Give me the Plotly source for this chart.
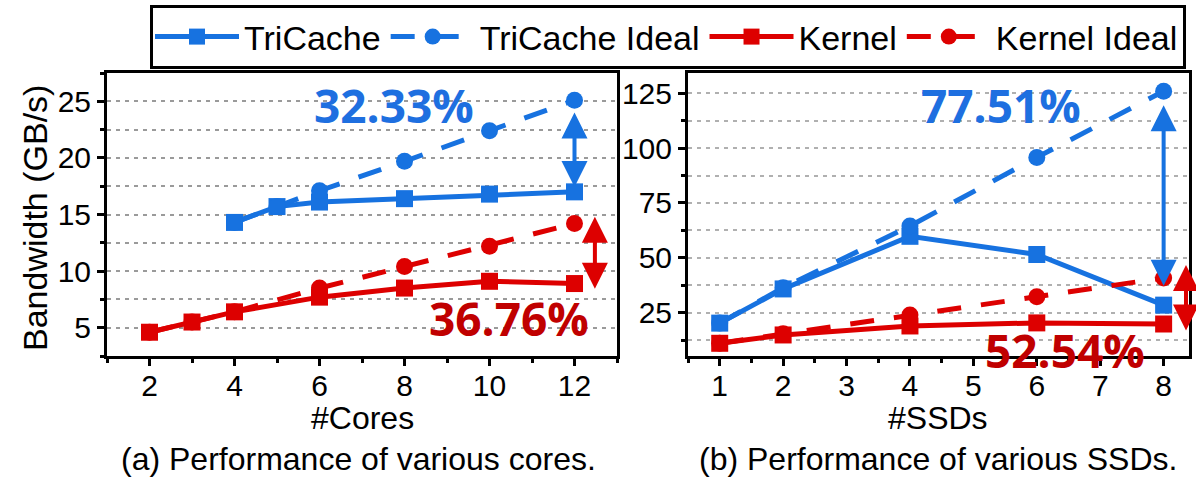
import plotly.graph_objects as go

BLUE = "#1772E0"
RED = "#DD0000"
RED_TXT = "#C00000"
BLUE_TXT = "#1E6FE0"

# (a) cores
cores_tri = [4, 5, 6, 8, 10, 12]
tri_bw = [14.3, 15.7, 16.1, 16.4, 16.8, 17.0]
tri_ideal_bw = [14.3, 15.7, 17.1, 19.7, 22.4, 25.1]
cores_ker = [2, 3, 4, 6, 8, 10, 12]
ker_bw = [4.6, 5.5, 6.4, 7.7, 8.5, 9.1, 8.9]
ker_ideal_bw = [4.6, 5.5, 6.4, 8.5, 10.4, 12.2, 14.2]

# (b) SSDs
ssds = [1, 2, 4, 6, 8]
tri_ssd = [20.2, 35.8, 59.8, 51.5, 28.4]
tri_ssd_ideal = [20.2, 36.3, 64.5, 95.8, 126.0]
ker_ssd = [11.0, 14.8, 18.9, 20.3, 19.8]
ker_ssd_ideal = [11.0, 15.3, 23.9, 32.2, 40.8]

cores_ticks = [2, 4, 6, 8, 10, 12]
ssd_ticks = [1, 2, 3, 4, 5, 6, 7, 8]
bw_ticks_a = [5, 10, 15, 20, 25]
bw_ticks_b = [25, 50, 75, 100, 125]

DASH = "24px,20px"
LW = 5
MS = 17

fig = go.Figure()

def add(x, y, color, dash, symbol, name, xa, ya, show):
    fig.add_trace(go.Scatter(
        x=x, y=y, mode="lines+markers", name=name, legendgroup=name,
        showlegend=show, xaxis=xa, yaxis=ya, cliponaxis=False,
        line=dict(color=color, width=LW, dash=dash),
        marker=dict(symbol=symbol, size=MS, color=color, line=dict(width=0)),
    ))

add(cores_tri, tri_bw, BLUE, "solid", "square", "TriCache", "x", "y", True)
add(cores_tri, tri_ideal_bw, BLUE, DASH, "circle", "TriCache Ideal", "x", "y", True)
add(cores_ker, ker_bw, RED, "solid", "square", "Kernel", "x", "y", True)
add(cores_ker, ker_ideal_bw, RED, DASH, "circle", "Kernel Ideal", "x", "y", True)

add(ssds, tri_ssd, BLUE, "solid", "square", "TriCache", "x2", "y2", False)
add(ssds, tri_ssd_ideal, BLUE, DASH, "circle", "TriCache Ideal", "x2", "y2", False)
add(ssds, ker_ssd, RED, "solid", "square", "Kernel", "x2", "y2", False)
add(ssds, ker_ssd_ideal, RED, DASH, "circle", "Kernel Ideal", "x2", "y2", False)

W, H = 1196, 479
def px(v): return v / W
def py(v): return 1 - v / H

TICKFONT = dict(family="Liberation Sans, Arial", size=30, color="black")

axis_common = dict(
    showline=True, linecolor="black", linewidth=3, mirror=True,
    ticks="outside", ticklen=7, tickwidth=3, tickcolor="black",
    tickfont=TICKFONT, zeroline=False,
)

fig.update_layout(
    width=W, height=H,
    margin=dict(l=0, r=0, t=0, b=0),
    paper_bgcolor="white", plot_bgcolor="white",
    xaxis=dict(domain=[px(107), px(617)], range=[1, 13], tickvals=cores_ticks,
               showgrid=False, anchor="y", ticklabelstandoff=-6,
               minor=dict(dtick=1, tick0=1, ticks="outside", ticklen=4, tickwidth=3,
                          tickcolor="black", showgrid=False),
               **axis_common),
    yaxis=dict(domain=[py(356), py(73)], range=[2.5, 27.5], tickvals=bw_ticks_a,
               showgrid=True, gridcolor="#9a9a9a", gridwidth=1.5, griddash="4px,5px",
               anchor="x",
               minor=dict(dtick=2.5, tick0=0, ticks="outside", ticklen=4, tickwidth=3,
                          tickcolor="black", showgrid=True, gridcolor="#9a9a9a",
                          gridwidth=1.5, griddash="4px,5px"),
               **axis_common),
    xaxis2=dict(domain=[px(688), px(1189)], range=[0.5, 8.4], tickvals=ssd_ticks,
                showgrid=False, anchor="y2", ticklabelstandoff=-6,
                minor=dict(dtick=0.5, tick0=0.5, ticks="outside", ticklen=4, tickwidth=3,
                           tickcolor="black", showgrid=False),
                **axis_common),
    yaxis2=dict(domain=[py(356), py(73)], range=[5.2, 134.3], tickvals=bw_ticks_b,
                showgrid=True, gridcolor="#b0b0b0", gridwidth=1.5, griddash="4px,5px",
                anchor="x2",
                minor=dict(dtick=12.5, tick0=0, ticks="outside", ticklen=4, tickwidth=3,
                           tickcolor="black", showgrid=True, gridcolor="#b0b0b0",
                           gridwidth=1.5, griddash="4px,5px"),
                **axis_common),
    legend=dict(orientation="h", x=px(150), y=py(5), xanchor="left", yanchor="top",
                bordercolor="black", borderwidth=3, bgcolor="white",
                font=dict(family="Liberation Sans, Arial", size=34, color="black"),
                itemwidth=84, tracegroupgap=0),
    showlegend=True,
)

BOLD = dict(family="Open Sans, Noto Sans", size=46, color=BLUE_TXT, weight="bold")
ann = []
def label(text, x, y, xref, yref, color):
    f = dict(BOLD); f["color"] = color
    ann.append(dict(text=text, x=x, y=y, xref=xref, yref=yref, showarrow=False,
                    font=f, xanchor="center", yanchor="middle"))

label("32.33%", 7.75, 24.7, "x", "y", BLUE_TXT)
label("36.76%", 10.45, 5.9, "x", "y", RED_TXT)
label("77.51%", 5.44, 119.5, "x2", "y2", BLUE_TXT)
label("52.54%", 6.45, 7.8, "x2", "y2", RED_TXT)

def darrow(x, y0, y1, xref, yref, color, axref=None, ax=None):
    d = dict(x=x, y=y1, ay=y0, xref=xref, yref=yref, ayref=yref,
             showarrow=True, arrowhead=2, startarrowhead=2, arrowside="end+start",
             arrowwidth=4, arrowsize=1.3, startarrowsize=1.3,
             arrowcolor=color, text="", standoff=0, startstandoff=0)
    if axref is None:
        d["axref"] = xref; d["ax"] = x
    else:
        d["axref"] = axref; d["ax"] = ax
    ann.append(d)

darrow(12, 17.3, 24.0, "x", "y", BLUE)
darrow(12.48, 8.3, 14.8, "x", "y", RED)
darrow(8, 36.6, 119.6, "x2", "y2", BLUE)
darrow(px(1186), 16.1, 46.7, "paper", "y2", RED, axref="pixel", ax=0)

def ptext(text, x, y, size, angle=0, yanchor="middle"):
    ann.append(dict(text=text, x=px(x), y=py(y), xref="paper", yref="paper",
                    showarrow=False,
                    font=dict(family="Liberation Sans, Arial", size=size, color="black"),
                    xanchor="center", yanchor=yanchor, textangle=angle))

ptext("#Cores", 362, 418, 32)
ptext("#SSDs", 938, 418, 32)
ptext("(a) Performance of various cores.", 358, 479, 32, yanchor="bottom")
ptext("(b) Performance of various SSDs.", 938, 479, 32, yanchor="bottom")
ptext("Bandwidth (GB/s)", 35, 218, 34, angle=-90)

fig.update_layout(annotations=ann)
fig.write_html("out.html", config={"displayModeBar": False},
               post_script="document.body.style.margin='0';document.body.style.overflow='hidden';")
